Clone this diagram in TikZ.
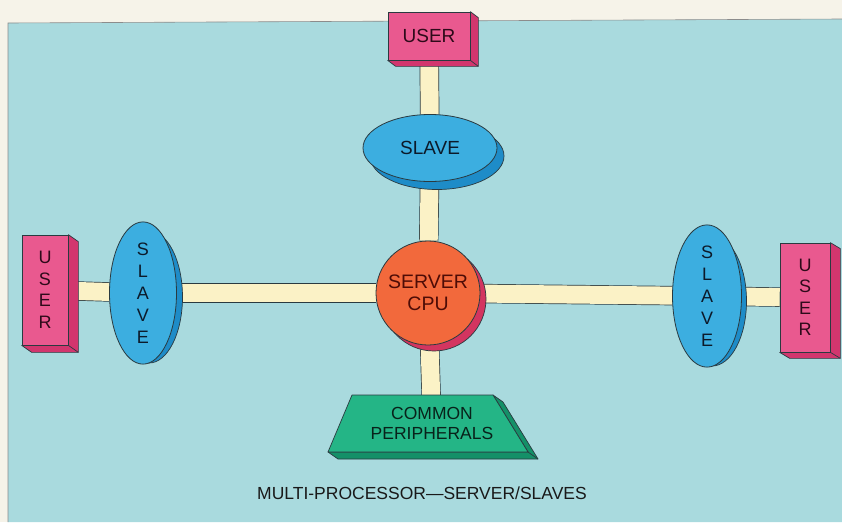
\documentclass[tikz,border=0pt]{standalone}
\usepackage{fontspec}
\setmainfont{Liberation Sans}
\usetikzlibrary{shapes.geometric,calc}
\definecolor{paper}{HTML}{F6F3E9}
\definecolor{bgc}{HTML}{A9DADE}
\definecolor{band}{HTML}{FBF2C6}
\definecolor{pinkf}{HTML}{E9598F}
\definecolor{pinks}{HTML}{D2366E}
\definecolor{pinkt}{HTML}{2E0A1A}
\definecolor{bluef}{HTML}{3CAEE0}
\definecolor{blues}{HTML}{1E8CC8}
\definecolor{bluet}{HTML}{0C1A2A}
\definecolor{cpuf}{HTML}{F2693C}
\definecolor{cpus}{HTML}{D33560}
\definecolor{cput}{HTML}{4E0C06}
\definecolor{greenf}{HTML}{24B586}
\definecolor{greens}{HTML}{149068}
\definecolor{greent}{HTML}{08221A}
\definecolor{ink}{HTML}{2A3A40}
\pgfdeclarelayer{bg}
\pgfdeclarelayer{side}
\pgfsetlayers{bg,side,main}
\tikzset{
  userbox/.style={draw=ink, line width=0.7pt, fill=pinkf, text=pinkt, inner sep=0pt, align=center,
    font=\fontsize{19}{21}\selectfont},
  slavebox/.style={ellipse, draw=ink, line width=0.8pt, fill=bluef, text=bluet, inner sep=0pt, align=center,
    font=\fontsize{17}{22}\selectfont},
  cpubox/.style={circle, draw=ink, line width=0.8pt, fill=cpuf, text=cput, inner sep=0pt, align=center,
    minimum size=104pt, font=\fontsize{19.5}{22}\selectfont},
  pertext/.style={text=greent, align=center, font=\fontsize{17.5}{20}\selectfont},
  usershade/.style={draw=ink, line width=0.7pt, fill=pinks, line join=round},
  slaveshade/.style={draw=ink, line width=0.7pt, fill=blues},
  cpushade/.style={draw=ink, line width=0.7pt, fill=cpus},
  greenshade/.style={draw=ink, line width=0.7pt, fill=greens, line join=round},
  link/.style={draw=ink, line width=0.7pt, double=band, double distance=18pt, line cap=butt},
  caption/.style={text=black!90, font=\fontsize{17.5}{20}\selectfont}
}
\begin{document}
\begin{tikzpicture}[x=1pt,y=-1pt]
\useasboundingbox (0,0) rectangle (842,522);
% nodes
\node[userbox, minimum width=82pt, minimum height=48pt] (tuser) at (429,36) {USER};
\node[userbox, minimum width=46pt, minimum height=110pt, font=\fontsize{18}{21.5}\selectfont] (luser) at (45,290) {U\\S\\E\\R};
\node[userbox, minimum width=50pt, minimum height=109pt, font=\fontsize{18}{21.5}\selectfont] (ruser) at (805,297.5) {U\\S\\E\\R};
\node[slavebox, minimum width=134pt, minimum height=67pt, font=\fontsize{19}{22}\selectfont] (tslave) at (430,148) {SLAVE};
\node[slavebox, minimum width=67pt, minimum height=132pt, font=\fontsize{18}{22}\selectfont] (lslave) at (143,293) {S\\L\\A\\V\\E};
\node[slavebox, minimum width=69pt, minimum height=130pt, font=\fontsize{18}{22}\selectfont] (rslave) at (707,296) {S\\L\\A\\V\\E};
\node[cpubox] (cpu) at (428,293) {SERVER\\CPU};
\path[draw=ink, line width=0.7pt, fill=greenf, line join=round]
  (352,395) -- (493,395) -- (528,452) -- (328,452) -- cycle;
\node[pertext] (per) at (432,423) {COMMON\\PERIPHERALS};
\node[caption] (cap) at (422,493) {MULTI-PROCESSOR—SERVER/SLAVES};
% shading / extrusions
\begin{pgfonlayer}{side}
  \foreach \u/\dx/\dy in {tuser/8/6, luser/10/7, ruser/10/6} {
    \path[usershade] (\u.north east) -- ++(\dx,\dy) -- ($(\u.south east)+(\dx,\dy)$)
      -- ($(\u.south west)+(\dx,\dy)$) -- (\u.south west) -- (\u.south east) -- cycle;
    \draw[ink, line width=0.7pt] (\u.south east) -- ++(\dx,\dy);
  }
  \draw[slaveshade] ($(tslave)+(7,8)$) ellipse [x radius=67, y radius=33.5];
  \draw[slaveshade] ($(lslave)+(6,4)$) ellipse [x radius=33.5, y radius=66];
  \draw[slaveshade] ($(rslave)+(5,5)$) ellipse [x radius=34.5, y radius=65];
  \draw[cpushade] ($(cpu)+(6,6)$) circle [radius=52];
  \path[greenshade] (493,395) -- (503,402) -- (538,459) -- (338,459) -- (328,452) -- (528,452) -- cycle;
  \draw[ink, line width=0.7pt] (528,452) -- (538,459);
\end{pgfonlayer}
% background and connectors
\begin{pgfonlayer}{bg}
  \fill[paper] (0,0) rectangle (842,522);
  \fill[bgc] (8,23) -- (842,19) -- (842,522) -- (8,522) -- cycle;
  \draw[black!45, line width=0.6pt] (8,522) -- (8,23) -- (842,19);
  \draw[link] (tuser) -- (tslave);
  \draw[link] (tslave) -- (cpu);
  \draw[link] (cpu) -- (per);
  \draw[link] (luser) -- (lslave);
  \draw[link] (lslave) -- (cpu);
  \draw[link] (cpu) -- (rslave);
  \draw[link] (rslave) -- (ruser);
\end{pgfonlayer}
\end{tikzpicture}
\end{document}
